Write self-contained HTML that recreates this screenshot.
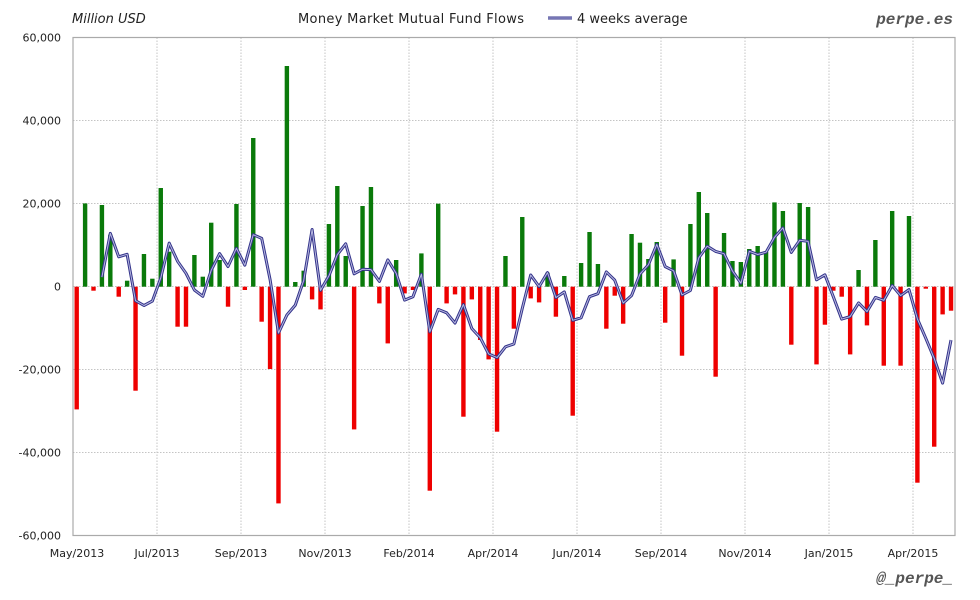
<!DOCTYPE html>
<html><head><meta charset="utf-8">
<style>
body{margin:0;background:#fff;}
svg{display:block;font-family:"DejaVu Sans","Liberation Sans",sans-serif;}
</style></head>
<body>
<svg id="c" width="980" height="600" viewBox="0 0 980 600" xmlns="http://www.w3.org/2000/svg">
<rect width="980" height="600" fill="#fff"/>
<g id="grid"></g>
<g id="bars"></g>
<g id="line"></g>
<rect x="73" y="37.5" width="882" height="498" fill="none" stroke="#aaa" stroke-width="1.2"/>
<g id="labels" font-size="11" fill="#222"></g>
<text x="72" y="23" font-size="13" font-style="italic" fill="#222">Million USD</text>
<text x="298" y="23" font-size="13" fill="#222" textLength="226">Money Market Mutual Fund Flows</text>
<line x1="548" y1="18" x2="572" y2="18" stroke="#33338a" stroke-width="3"/>
<line x1="548" y1="18" x2="572" y2="18" stroke="#b8b8e0" stroke-width="1"/>
<text x="577" y="23" font-size="13" fill="#222">4 weeks average</text>
<text x="953" y="24" font-size="16" font-weight="bold" font-style="italic" fill="#555" text-anchor="end" font-family="Liberation Mono, monospace">perpe.es</text>
<text x="953" y="583" font-size="16" font-weight="bold" font-style="italic" fill="#555" text-anchor="end" font-family="Liberation Mono, monospace">@_perpe_</text>
</svg>
<script>
var NS="http://www.w3.org/2000/svg";
function el(p,t,a){var e=document.createElementNS(NS,t);for(var k in a)e.setAttribute(k,a[k]);p.appendChild(e);return e;}
var Z=286.7;
var g=document.getElementById('grid'),lb=document.getElementById('labels');
var yl=["60,000","40,000","20,000","0","-20,000","-40,000","-60,000"];
for(var i=0;i<7;i++){var y=37.5+i*83;
 if(i>0&&i<6)el(g,'line',{x1:73,x2:955,y1:y,y2:y,stroke:'#c4c4c4','stroke-dasharray':'1.5,1.5'});
 var t=el(lb,'text',{x:61,y:y+4,'text-anchor':'end'});t.textContent=yl[i];}
var xl=["May/2013","Jul/2013","Sep/2013","Nov/2013","Feb/2014","Apr/2014","Jun/2014","Sep/2014","Nov/2014","Jan/2015","Apr/2015"];
for(var i=0;i<11;i++){var x=73+i*84;
 if(i>0)el(g,'line',{x1:x,x2:x,y1:37.5,y2:535.5,stroke:'#c4c4c4','stroke-dasharray':'1.5,1.5'});
 var t=el(lb,'text',{x:(i==0?77:x),y:557,'text-anchor':'middle'});t.textContent=xl[i];}
var v=[-122.7,83.3,-4,81.7,52,-10,6,-104,32.7,8,98.7,35,-40,-40,31.7,10,64,26.7,-20,82.7,-3.3,148.7,-35,-82.3,-216.7,220.7,4.7,16,-12.7,-22.7,62.7,100.7,30.7,-142.7,80.7,99.7,-16.7,-56.7,
26.7,-6.7,-3.3,33.3,-204,83,-16.7,-7.7,-130,-12.7,-53.3,-72.7,-145,30.7,-42,69.7,-11.7,-15.7,14,-30,10.7,-129,23.7,54.7,22.7,-42,-9,-37,52.7,44,27.7,44.7,-36,27.3,
-69,62.7,94.7,73.7,-90,53.7,25.7,24.7,37.7,40.7,35,84.3,75.7,-58,83.7,79.7,-77.7,-38,-4,-10,-67.7,16.7,-38.7,46.7,-79,75.7,-79,70.7,-196,-2,-160,-27.7,-24];
var b=document.getElementById('bars'),pts=[];
for(var i=0;i<v.length;i++){var cx=76.7+i*8.407,h=v[i];
 if(h>=0)el(b,'rect',{x:cx-2.2,y:Z-h,width:4.4,height:h,fill:'#0a7a0a'});
 else el(b,'rect',{x:cx-2.2,y:Z,width:4.4,height:-h,fill:'#ee0000'});
 if(i>=3){var a=(v[i]+v[i-1]+v[i-2]+v[i-3])/4;pts.push(cx.toFixed(1)+','+(Z-a).toFixed(1));}}
var L=document.getElementById('line');
el(L,'polyline',{points:pts.join(' '),fill:'none',stroke:'#33338a','stroke-width':3,'stroke-linejoin':'round'});
el(L,'polyline',{points:pts.join(' '),fill:'none',stroke:'#b8b8e0','stroke-width':1,'stroke-linejoin':'round'});
</script>
</body></html>
